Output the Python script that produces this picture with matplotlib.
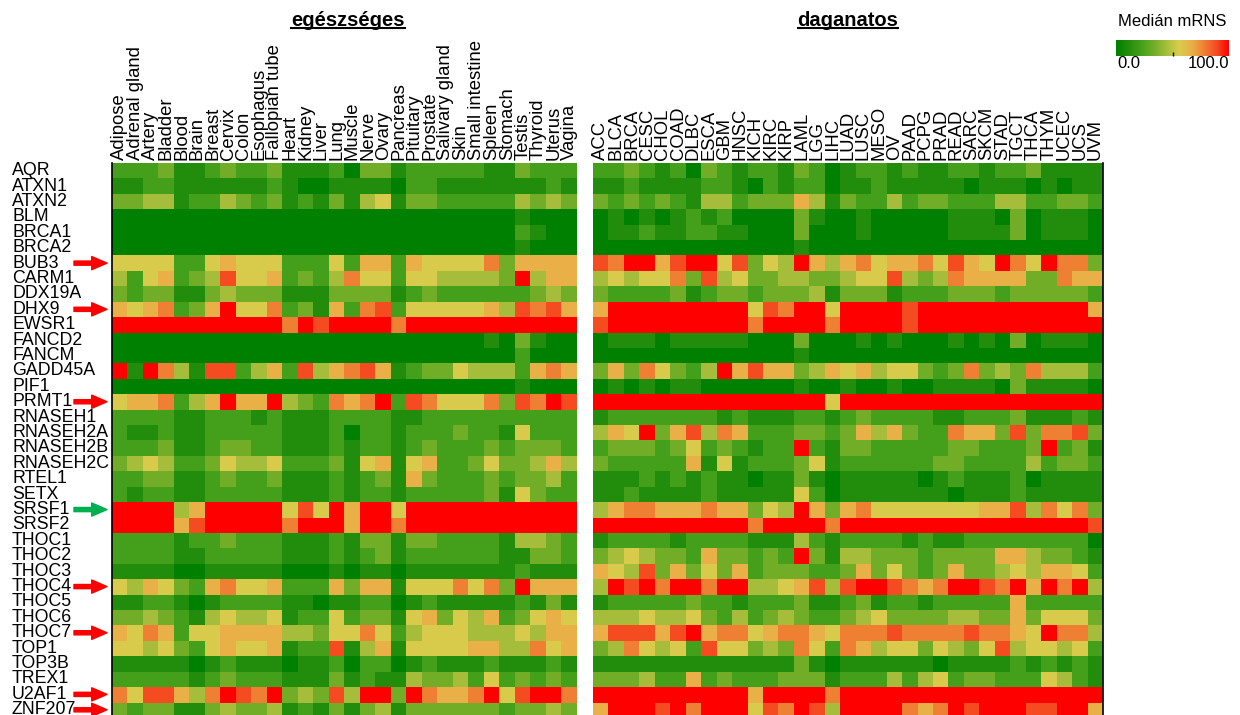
import numpy as np
import matplotlib
matplotlib.use("Agg")
import matplotlib.pyplot as plt
from matplotlib.colors import LinearSegmentedColormap
from matplotlib.lines import Line2D
from matplotlib.transforms import blended_transform_factory

plt.rcParams["font.family"] = ["Liberation Sans", "DejaVu Sans"]

# ---------- data ----------
genes = ["AQR", "ATXN1", "ATXN2", "BLM", "BRCA1", "BRCA2", "BUB3", "CARM1",
         "DDX19A", "DHX9", "EWSR1", "FANCD2", "FANCM", "GADD45A", "PIF1",
         "PRMT1", "RNASEH1", "RNASEH2A", "RNASEH2B", "RNASEH2C", "RTEL1",
         "SETX", "SRSF1", "SRSF2", "THOC1", "THOC2", "THOC3", "THOC4",
         "THOC5", "THOC6", "THOC7", "TOP1", "TOP3B", "TREX1", "U2AF1", "ZNF207"]

healthy_tissues = ["Adipose", "Adrenal gland", "Artery", "Bladder", "Blood",
                   "Brain", "Breast", "Cervix", "Colon", "Esophagus",
                   "Fallopian tube", "Heart", "Kidney", "Liver", "Lung",
                   "Muscle", "Nerve", "Ovary", "Pancreas", "Pituitary",
                   "Prostate", "Salivary gland", "Skin", "Small intestine",
                   "Spleen", "Stomach", "Testis", "Thyroid", "Uterus", "Vagina"]

tumor_types = ["ACC", "BLCA", "BRCA", "CESC", "CHOL", "COAD", "DLBC", "ESCA",
               "GBM", "HNSC", "KICH", "KIRC", "KIRP", "LAML", "LGG", "LIHC",
               "LUAD", "LUSC", "MESO", "OV", "PAAD", "PCPG", "PRAD", "READ",
               "SARC", "SKCM", "STAD", "TGCT", "THCA", "THYM", "UCEC", "UCS",
               "UVM"]

# median mRNA read off the colour scale, one digit per tissue:
# value ~ digit * 100 / 9  (9 = 100 or more)
healthy_levels = [
    "2223112322" "3111203312" "2222113222",
    "1122111111" "2100111102" "2111111121",
    "3344122432" "3121314513" "3222224343",
    "0000000000" "0000000000" "0000001000",
    "0000000000" "0000000000" "0000002100",
    "0000000000" "0000000000" "0000001000",
    "5555225655" "5222526626" "5555736666",
    "4256234855" "6232475525" "5444439466",
    "3233113433" "3111333312" "3222222343",
    "6567236955" "7231627825" "5555648786",
    "9999999999" "9798999979" "9999999999",
    "0000000000" "0000000000" "0000103100",
    "0000000000" "0000000000" "0000002000",
    "9197418824" "6284678612" "3354442676",
    "0000000000" "0000000000" "0000001000",
    "5667246966" "9432767928" "7555738798",
    "2222112221" "2111222211" "2222222222",
    "2112112222" "2111202212" "2232215222",
    "2223112332" "2111212212" "3222323332",
    "3454223544" "5222315615" "6223533464",
    "2233112322" "3111212316" "3222323342",
    "2122112222" "2111212212" "2222315322",
    "9999469999" "9585969959" "9999999999",
    "9999689999" "9799969979" "9999999999",
    "2222122322" "2111213313" "3222214432",
    "2222112222" "2111212312" "2222211332",
    "1111001111" "1000101101" "1111112111",
    "5465326755" "6222636615" "5575739666",
    "1122101222" "2110112201" "2111112131",
    "3343214544" "5122523315" "6354623565",
    "6576255666" "6443557524" "5554445466",
    "5545325655" "6122814615" "5556644756",
    "1111101211" "1011202201" "2111211121",
    "2222212322" "2111312114" "3342523232",
    "7588647987" "9343849939" "7667958997",
    "3233113433" "4121313413" "3333323343",
]

tumor_levels = [
    "2232120321" "2213201221" "2112212231" "111",
    "1121111221" "0212201121" "1111011101" "011",
    "3232321442" "3336413224" "2332224422" "332",
    "0101012120" "0003100100" "0001110301" "110",
    "0112112211" "0003000100" "0001111301" "110",
    "0000000000" "0001000000" "0000000000" "000",
    "8799689958" "3549646756" "6758659759" "773",
    "4545573845" "3344334558" "4347666633" "766",
    "3222231233" "2333413331" "2223332333" "332",
    "6999999999" "5879959999" "8999999999" "996",
    "8999999999" "7999979999" "8999999999" "999",
    "0111011111" "0003000101" "0001010301" "110",
    "0000000000" "0001000000" "0000000000" "000",
    "3637532496" "8663465645" "5323734374" "442",
    "0101011000" "0001001001" "0011110311" "110",
    "9999999999" "9999959999" "9999999999" "999",
    "1222222212" "1112212322" "2211222311" "121",
    "4659368476" "2223323646" "3227663837" "783",
    "2333235232" "1229213322" "2223322239" "231",
    "3222226151" "2223512222" "2233222242" "332",
    "1112121211" "0113101111" "1012111201" "111",
    "1121111211" "1115201111" "1110111211" "111",
    "4677666766" "3549636755" "5555566847" "573",
    "9999999999" "7999979999" "9999999999" "998",
    "1222212222" "1114212222" "1211222222" "220",
    "3454332633" "2329314433" "3233336643" "321",
    "6548363536" "2333223635" "3236334546" "652",
    "4989799799" "4456848998" "7679987969" "794",
    "1222223221" "2223112312" "2122222622" "222",
    "4445445324" "2343223453" "3334433635" "553",
    "6888689677" "5677657778" "7777877659" "774",
    "3475452855" "3437527645" "5354358455" "452",
    "1111111111" "1113101111" "1101111212" "121",
    "3334226232" "2233312224" "2452332225" "421",
    "9999999999" "6999979999" "9999999999" "999",
    "6999897999" "5879849999" "7679899988" "996",
]

marked_red = ["BUB3", "DHX9", "PRMT1", "THOC4", "THOC7", "U2AF1", "ZNF207"]
marked_green = ["SRSF1"]


def to_values(rows):
    return np.array([[int(c) for c in r] for r in rows]) * 100.0 / 9


healthy = to_values(healthy_levels)
tumor = to_values(tumor_levels)

cmap = LinearSegmentedColormap.from_list(
    "gyr",
    ["#008000", "#238d0d", "#45a01b", "#72ad28", "#a6be3b",
     "#d8cc4c", "#e9b048", "#ef8234", "#f44c22", "#ff0000"])

# ---------- figure ----------
fig = plt.figure(figsize=(12.4, 7.15), dpi=100)
ax_h = fig.add_axes([112 / 1240, -2.5 / 715, 465 / 1240, 554.5 / 715])
ax_t = fig.add_axes([593 / 1240, -2.5 / 715, 510 / 1240, 554.5 / 715])

for ax, vals, cols in [(ax_h, healthy, healthy_tissues), (ax_t, tumor, tumor_types)]:
    ax.imshow(vals, cmap=cmap, vmin=0, vmax=100, aspect="auto",
              interpolation="nearest")
    ax.xaxis.tick_top()
    ax.set_xticks(range(len(cols)))
    ax.set_xticklabels(cols, rotation=90, fontsize=13.3)
    ax.tick_params(axis="x", length=0, pad=2)
    ax.set_yticks([])
    for s in ax.spines.values():
        s.set_visible(False)

ax_h.spines["left"].set_visible(True)
ax_h.spines["left"].set_linewidth(1.2)
ax_t.spines["right"].set_visible(True)
ax_t.spines["right"].set_linewidth(1.2)

# gene names, left aligned
tr = blended_transform_factory(ax_h.transAxes, ax_h.transData)
for i, g in enumerate(genes):
    ax_h.text(-100 / 465, i, g, transform=tr, ha="left", va="center",
              fontsize=12.8)

# arrows at the highlighted genes
for g in marked_red + marked_green:
    i = genes.index(g)
    color = "#ff0000" if g in marked_red else "#00b050"
    ax_h.annotate("", xy=(-5 / 465, i), xycoords=tr,
                  xytext=(-38 / 465, i), textcoords=tr,
                  annotation_clip=False,
                  arrowprops=dict(arrowstyle="simple,head_length=11,head_width=9.5,tail_width=3",
                                  mutation_scale=1, color=color,
                                  shrinkA=0, shrinkB=0))

# group titles
t1 = fig.text(348 / 1240, 1 - 20 / 715, "egészséges", ha="center", va="center",
              fontsize=14.5, fontweight="bold")
t2 = fig.text(848 / 1240, 1 - 20 / 715, "daganatos", ha="center", va="center",
              fontsize=14.5, fontweight="bold")

# colour bar
ax_c = fig.add_axes([1116 / 1240, 1 - 56 / 715, 113 / 1240, 16 / 715])
ax_c.imshow(np.linspace(0, 100, 256)[None, :], cmap=cmap, aspect="auto",
            extent=[0, 100, 0, 1])
ax_c.set_yticks([])
ax_c.set_xticks([50])
ax_c.set_xticklabels([])
ax_c.tick_params(axis="x", direction="in", length=3, width=1)
for s in ax_c.spines.values():
    s.set_visible(False)
fig.text(1172 / 1240, 1 - 22 / 715, "Medián mRNS", ha="center", va="center",
         fontsize=12)
fig.text(1117 / 1240, 1 - 63 / 715, "0.0", ha="left", va="center", fontsize=12)
fig.text(1229 / 1240, 1 - 63 / 715, "100.0", ha="right", va="center", fontsize=12)

# underline the group titles
fig.canvas.draw()
r = fig.canvas.get_renderer()
for t in (t1, t2):
    bb = t.get_window_extent(r).transformed(fig.transFigure.inverted())
    y = bb.y0 + 1.5 / 715
    fig.add_artist(Line2D([bb.x0, bb.x1], [y, y], color="black", lw=1.5,
                          transform=fig.transFigure))

fig.savefig("out.png", dpi=100)
